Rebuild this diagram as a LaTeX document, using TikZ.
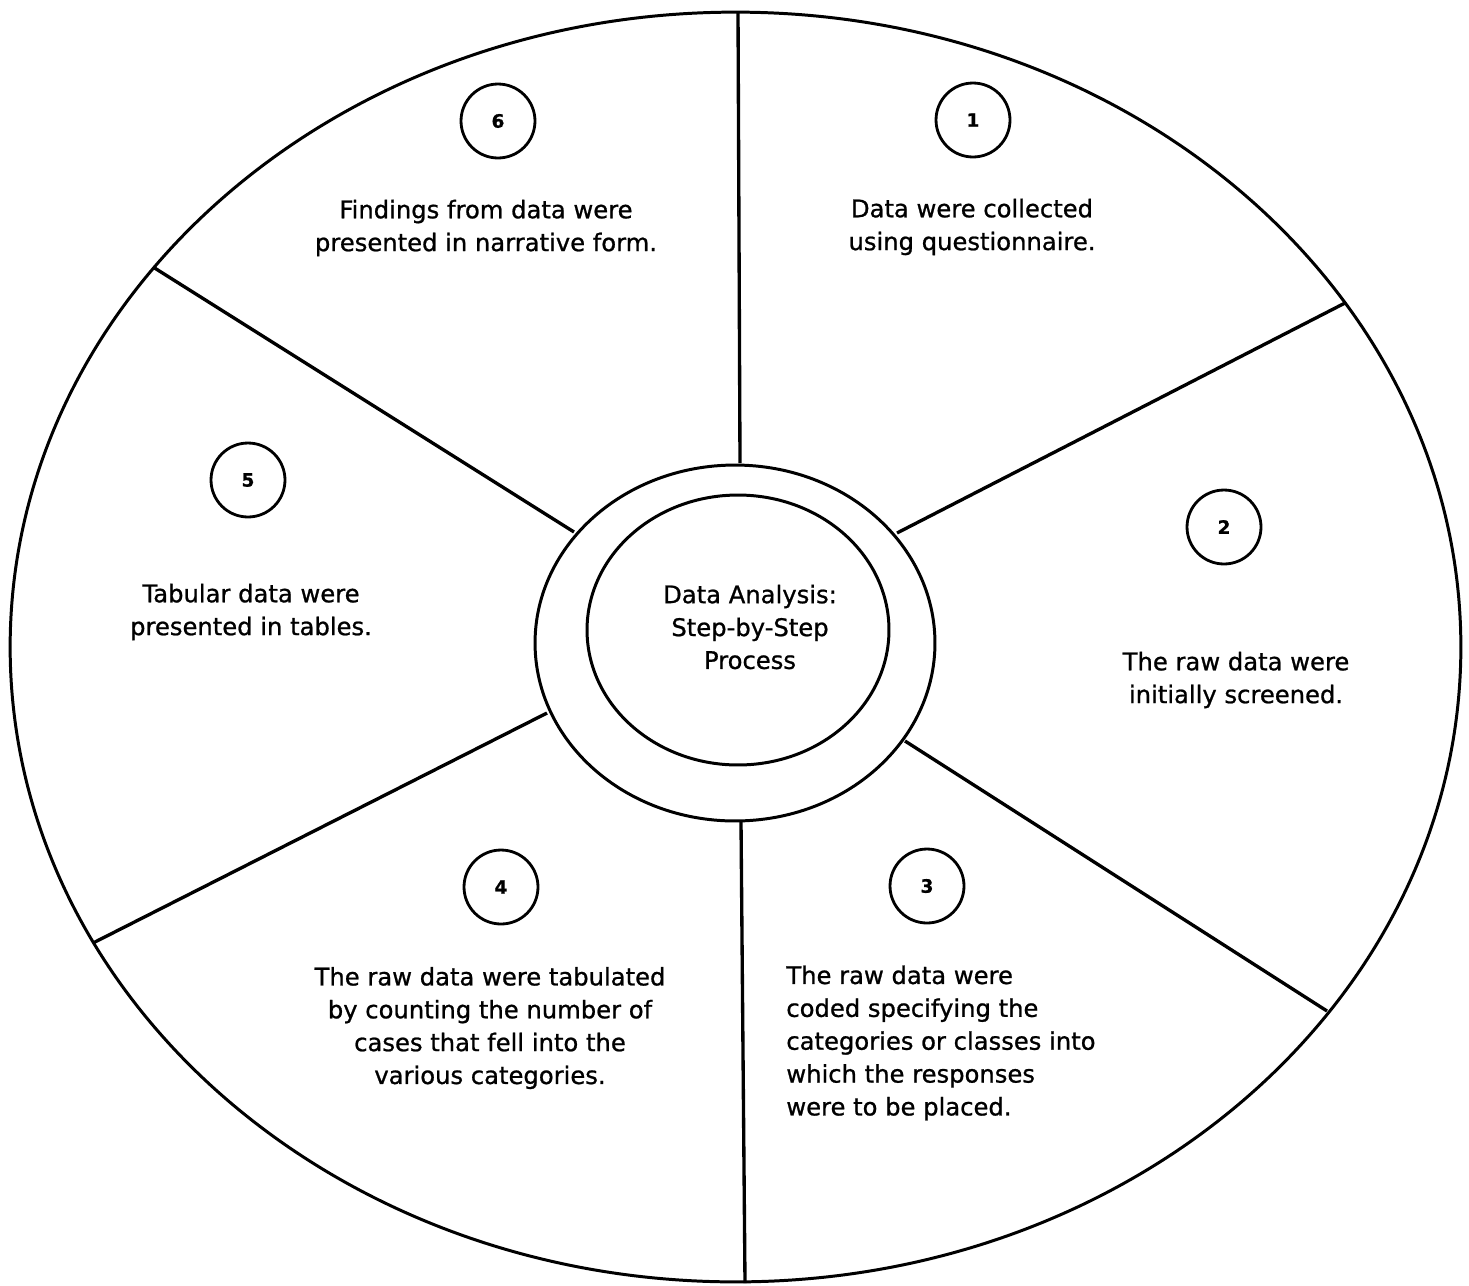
\documentclass[tikz,border=0pt]{standalone}
\usepackage{fontspec}
\setmainfont{DejaVu Sans}[FakeBold=0.9]
\usepackage{tikz}
\usetikzlibrary{shapes.geometric, positioning, calc}
\tikzset{
  font=\fontsize{13.8}{18.7}\selectfont,
  wheelblock/.style={
    ellipse, draw=black, line width=1.7pt, inner sep=0pt
  },
  stepnum/.style={
    circle, draw=black, line width=1.6pt, minimum size=1.48cm, inner sep=0pt,
    font=\fontsize{10.5}{12}\selectfont\bfseries
  },
  steptext/.style={align=center, inner sep=0pt},
  spokeline/.style={draw=black, line width=1.9pt}
}

\begin{document}
\begin{tikzpicture}[x=0.02cm, y=-0.02cm]
  \useasboundingbox (0,0) rectangle (1469,1285);

  % Outer wheel and hub
  \node[wheelblock, minimum width=29.02cm, minimum height=25.4cm] (wheel) at (735.5,647) {};
  \node[wheelblock, minimum width=8cm, minimum height=7.12cm] (ring) at (735,643) {};
  \node[wheelblock, minimum width=6.04cm, minimum height=5.4cm] (hub) at (738,630) {};
  \node[steptext] (hubtext) at (750,627) {Data Analysis:\\Step-by-Step\\Process};

  % Spoke ends
  \coordinate (o1) at (738,12);   \coordinate (i1) at (740,463);
  \coordinate (o2) at (1345,303); \coordinate (i2) at (897,533);
  \coordinate (o3) at (1327,1011);\coordinate (i3) at (905,741);
  \coordinate (o4) at (745,1283); \coordinate (i4) at (741,822);
  \coordinate (o5) at (93,943);   \coordinate (i5) at (547,713);
  \coordinate (o6) at (153,267);  \coordinate (i6) at (574,532);

  \foreach \k in {1,...,6}
    \draw[spokeline] (i\k) -- (o\k);

  % Step 1
  \node[stepnum] (s1) at (973,120) {1};
  \node[steptext] (t1) at (972,227) {Data were collected\\using questionnaire.};

  % Step 2
  \node[stepnum] (s2) at (1224,527) {2};
  \node[steptext] (t2) at (1236,680) {The raw data were\\initially screened.};

  % Step 3
  \node[stepnum] (s3) at (927,886) {3};
  \node[steptext, align=left, anchor=west] (t3) at (786,1043) {The raw data were\\coded specifying the\\categories or classes into\\which the responses\\were to be placed.};

  % Step 4
  \node[stepnum] (s4) at (501,887) {4};
  \node[steptext] (t4) at (490,1028) {The raw data were tabulated\\by counting the number of\\cases that fell into the\\various categories.};

  % Step 5
  \node[stepnum] (s5) at (248,480) {5};
  \node[steptext] (t5) at (251,612) {Tabular data were\\presented in tables.};

  % Step 6
  \node[stepnum] (s6) at (498,121) {6};
  \node[steptext] (t6) at (486,228) {Findings from data were\\presented in narrative form.};

\end{tikzpicture}
\end{document}
